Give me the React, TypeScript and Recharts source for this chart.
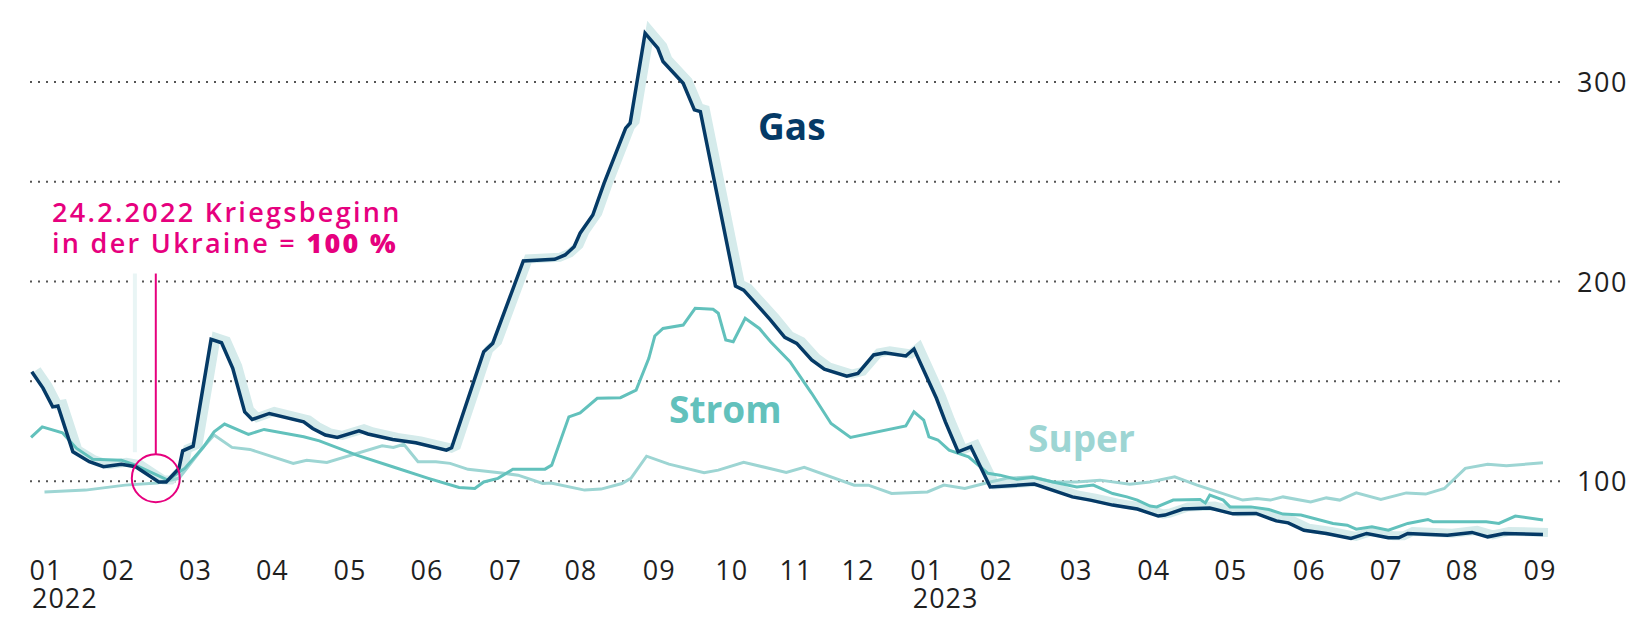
import { Line, LineChart, ReferenceDot, ReferenceLine, XAxis, YAxis } from "recharts";

const WIDTH = 1649;
const HEIGHT = 628;
const FONT = '"Open Sans", sans-serif';

const NAVY = "#053a66";
const STROM_COLOR = "#62c1bc";
const SUPER_COLOR = "#9dd5d3";
const SHADOW = "#d5ebeb";
const PINK = "#e6007e";

// x in Monaten ab Jan. 2022, wie auf der Achse abgetragen
const MONTH_TICKS = [0, 0.97, 2.0, 3.03, 4.07, 5.1, 6.15, 7.16, 8.21, 9.18, 10.04, 10.87, 11.79, 12.72, 13.79, 14.83, 15.86, 16.91, 17.94, 18.96, 20];
const MONTH_LABELS = ["01", "02", "03", "04", "05", "06", "07", "08", "09", "10", "11", "12", "01", "02", "03", "04", "05", "06", "07", "08", "09"];
const YEAR_LABELS: Record<number, string> = { 0: "2022", 12: "2023" };
const Y_TICKS = [100, 150, 200, 250, 300];
const Y_LABELED = [100, 200, 300];

const WAR_START = 1.47; // 24.2.2022 = 100 %
const WAR_MARK = { top: 204, bottom: 113.5, circle: 101.5 };
const SPIKE = { t: 1.19, top: 204, bottom: 114.5 };

const GAS: [number, number][] = [
  [-0.19, 154.8], [-0.04, 146.6], [0.09, 137.2], [0.16, 137.6], [0.36, 114.7], [0.58, 109.7], [0.77, 107.2],
  [1.01, 108.4], [1.2, 107.2], [1.51, 99.6], [1.61, 99.6], [1.78, 106.4], [1.83, 115.2], [1.97, 117.5],
  [2.21, 171.0], [2.35, 169.3], [2.5, 156.5], [2.66, 134.7], [2.76, 130.9], [2.99, 133.9], [3.45, 129.7],
  [3.57, 126.4], [3.74, 123.1], [3.9, 121.9], [4.19, 125.2], [4.31, 123.6], [4.64, 120.9], [4.95, 119.2],
  [5.36, 115.5], [5.43, 116.7], [5.86, 164.8], [5.98, 169.0], [6.39, 210.3], [6.81, 211.1], [6.95, 213.3],
  [7.07, 217.4], [7.15, 224.2], [7.32, 233.3], [7.47, 249.2], [7.76, 276.8], [7.82, 279.3], [8.02, 324.4],
  [8.19, 316.9], [8.26, 310.2], [8.53, 299.3], [8.68, 286.0], [8.76, 285.1], [9.23, 197.7], [9.34, 195.7],
  [9.7, 180.7], [9.89, 172.0], [10.05, 169.0], [10.25, 160.7], [10.42, 156.1], [10.72, 152.6], [10.87, 154.0],
  [11.08, 163.2], [11.23, 164.3], [11.51, 162.7], [11.62, 166.2], [11.92, 141.5], [12.04, 129.7], [12.21, 114.7],
  [12.38, 117.2], [12.64, 97.1], [13.23, 98.5], [13.74, 92.1], [13.98, 90.5], [14.28, 88.0], [14.61, 86.0],
  [14.89, 82.5], [14.98, 83.0], [15.22, 86.0], [15.58, 86.5], [15.89, 83.6], [16.2, 83.8], [16.47, 80.1],
  [16.63, 79.1], [16.84, 75.4], [17.14, 73.8], [17.47, 71.3], [17.68, 73.8], [17.97, 71.6], [18.11, 71.6],
  [18.23, 73.8], [18.76, 72.9], [19.09, 74.3], [19.3, 72.1], [19.52, 73.8], [20.04, 73.3],
];

const STROM: [number, number][] = [
  [-0.2, 121.9], [-0.05, 127.2], [0.22, 124.2], [0.41, 116.4], [0.63, 110.9], [1.01, 110.5], [1.2, 108.0],
  [1.63, 100.5], [1.86, 106.5], [2.11, 117.2], [2.25, 124.7], [2.39, 128.6], [2.71, 123.4], [2.92, 125.9],
  [3.45, 122.2], [3.66, 120.2], [4.16, 113.0], [4.64, 107.2], [5.12, 101.4], [5.53, 96.8], [5.74, 96.3],
  [5.86, 99.6], [6.05, 101.4], [6.25, 106.0], [6.68, 106.0], [6.77, 108.0], [7.0, 132.2], [7.15, 134.2],
  [7.38, 141.5], [7.69, 141.8], [7.9, 145.6], [8.07, 161.5], [8.15, 172.7], [8.26, 176.5], [8.53, 178.2],
  [8.69, 186.6], [8.93, 186.1], [9.0, 184.1], [9.1, 170.7], [9.2, 169.8], [9.36, 181.6], [9.55, 176.5],
  [9.7, 169.8], [9.96, 159.8], [10.25, 144.0], [10.51, 128.9], [10.77, 121.9], [11.51, 127.6], [11.62, 134.7],
  [11.75, 130.6], [11.82, 122.2], [11.94, 120.6], [12.09, 115.5], [12.35, 112.2], [12.61, 103.9], [12.77, 103.0],
  [13.0, 100.9], [13.21, 101.9], [13.48, 99.6], [13.8, 97.1], [14.02, 98.0], [14.28, 93.8], [14.47, 92.1],
  [14.61, 90.5], [14.78, 87.5], [14.87, 87.1], [15.09, 90.5], [15.45, 90.8], [15.52, 89.1], [15.58, 93.0],
  [15.76, 90.5], [15.85, 87.1], [16.13, 87.1], [16.37, 85.8], [16.56, 83.5], [16.8, 83.0], [17.23, 78.8],
  [17.42, 77.9], [17.54, 75.9], [17.75, 77.1], [17.97, 75.4], [18.23, 78.8], [18.5, 80.8], [18.57, 79.6],
  [19.28, 79.6], [19.45, 78.8], [19.67, 82.5], [20.04, 80.5],
];

const SUPER: [number, number][] = [
  [-0.02, 94.6], [0.53, 95.5], [1.06, 98.0], [1.49, 99.1], [1.78, 101.4], [1.92, 108.0], [2.11, 117.2],
  [2.25, 123.1], [2.49, 116.9], [2.73, 115.9], [3.31, 108.9], [3.49, 110.5], [3.76, 109.4], [4.5, 117.7],
  [4.65, 116.9], [4.79, 118.5], [4.98, 109.7], [5.22, 109.7], [5.41, 108.9], [5.65, 105.9], [6.13, 103.9],
  [6.32, 103.0], [6.65, 98.8], [6.76, 99.1], [7.21, 95.5], [7.43, 96.0], [7.71, 98.8], [7.83, 101.4],
  [8.04, 112.5], [8.34, 108.5], [8.81, 104.2], [9.0, 105.5], [9.34, 109.4], [9.91, 104.4], [10.15, 106.9],
  [10.82, 98.0], [11.01, 98.0], [11.32, 93.8], [11.8, 94.6], [12.02, 98.0], [12.3, 96.3], [12.64, 99.6],
  [12.86, 101.4], [13.21, 102.2], [13.48, 99.6], [13.8, 99.6], [14.11, 100.5], [14.51, 98.5], [14.78, 99.6],
  [15.11, 102.2], [15.41, 98.0], [16.02, 90.5], [16.21, 91.3], [16.39, 90.5], [16.56, 92.1], [16.93, 89.6],
  [17.14, 91.6], [17.32, 90.5], [17.54, 94.1], [17.87, 90.8], [18.21, 94.1], [18.47, 93.5], [18.72, 96.3],
  [19.0, 106.4], [19.3, 108.4], [19.55, 107.7], [20.04, 109.2],
];

const rows = (pts: [number, number][]) => pts.map(([t, v]) => ({ t, v }));

function MonthTick({ x, y, payload }: any) {
  const i = MONTH_TICKS.indexOf(payload.value);
  const year = YEAR_LABELS[i];
  return (
    <g fontFamily={FONT} fontSize={27} fill="#1f1f1f" letterSpacing={1}>
      <text x={x} y={y + 21} textAnchor="middle">{MONTH_LABELS[i]}</text>
      {year && <text x={x - 14} y={y + 49} textAnchor="start">{year}</text>}
    </g>
  );
}

function ValueTick({ x, y, payload }: any) {
  if (!Y_LABELED.includes(payload.value)) return null;
  return (
    <text x={x + 9} y={y + 10} textAnchor="start" fontFamily={FONT} fontSize={27} fill="#1f1f1f" letterSpacing={1.5}>
      {payload.value}
    </text>
  );
}

export default function App() {
  return (
    <div style={{ position: "absolute", left: 0, top: 0, width: WIDTH, height: HEIGHT, background: "#fff" }}>
      <LineChart width={WIDTH} height={HEIGHT} margin={{ top: 22, right: 0, bottom: 0, left: 25 }}>
        <XAxis
          dataKey="t"
          type="number"
          domain={[-0.281, 20.268]}
          ticks={MONTH_TICKS}
          interval={0}
          tick={<MonthTick />}
          axisLine={false}
          tickLine={false}
          height={77}
          allowDataOverflow
        />
        <YAxis
          orientation="right"
          type="number"
          domain={[65, 330]}
          ticks={Y_TICKS}
          interval={0}
          tick={<ValueTick />}
          axisLine={false}
          tickLine={false}
          width={89}
          allowDataOverflow
        />
        {Y_TICKS.map((v) => (
          <ReferenceLine key={v} y={v} stroke="#555" strokeWidth={2} strokeDasharray="2 6" />
        ))}
        <ReferenceLine
          segment={[{ x: SPIKE.t, y: SPIKE.top }, { x: SPIKE.t, y: SPIKE.bottom }]}
          stroke="#e9f5f5"
          strokeWidth={4}
        />
        <Line
          data={rows(GAS)}
          dataKey="v"
          type="linear"
          stroke={SHADOW}
          strokeWidth={9}
          dot={false}
          activeDot={false}
          isAnimationActive={false}
          transform="translate(5,-2)"
        />
        <Line data={rows(SUPER)} dataKey="v" type="linear" stroke={SUPER_COLOR} strokeWidth={3} dot={false} activeDot={false} isAnimationActive={false} />
        <Line data={rows(STROM)} dataKey="v" type="linear" stroke={STROM_COLOR} strokeWidth={3} dot={false} activeDot={false} isAnimationActive={false} />
        <Line data={rows(GAS)} dataKey="v" type="linear" stroke={NAVY} strokeWidth={3.5} dot={false} activeDot={false} isAnimationActive={false} />
        <ReferenceLine
          segment={[{ x: WAR_START, y: WAR_MARK.top }, { x: WAR_START, y: WAR_MARK.bottom }]}
          stroke={PINK}
          strokeWidth={2}
        />
        <ReferenceDot x={WAR_START} y={WAR_MARK.circle} r={24} fill="none" stroke={PINK} strokeWidth={2} />
      </LineChart>
      <svg width={WIDTH} height={HEIGHT} style={{ position: "absolute", left: 0, top: 0, pointerEvents: "none" }}>
        <g fontFamily={FONT} fill={PINK} fontSize={27} fontWeight={600} letterSpacing={2.3}>
          <text x={52} y={222}>24.2.2022 Kriegsbeginn</text>
          <text x={52} y={253}>
            in der Ukraine = <tspan fontWeight={800}>100 %</tspan>
          </text>
        </g>
        <g fontFamily={FONT} fontWeight={700} fontSize={37}>
          <text x={758} y={140} fill={NAVY}>Gas</text>
          <text x={669} y={423} fill={STROM_COLOR}>Strom</text>
          <text x={1028} y={452} fill={SUPER_COLOR}>Super</text>
        </g>
      </svg>
    </div>
  );
}
